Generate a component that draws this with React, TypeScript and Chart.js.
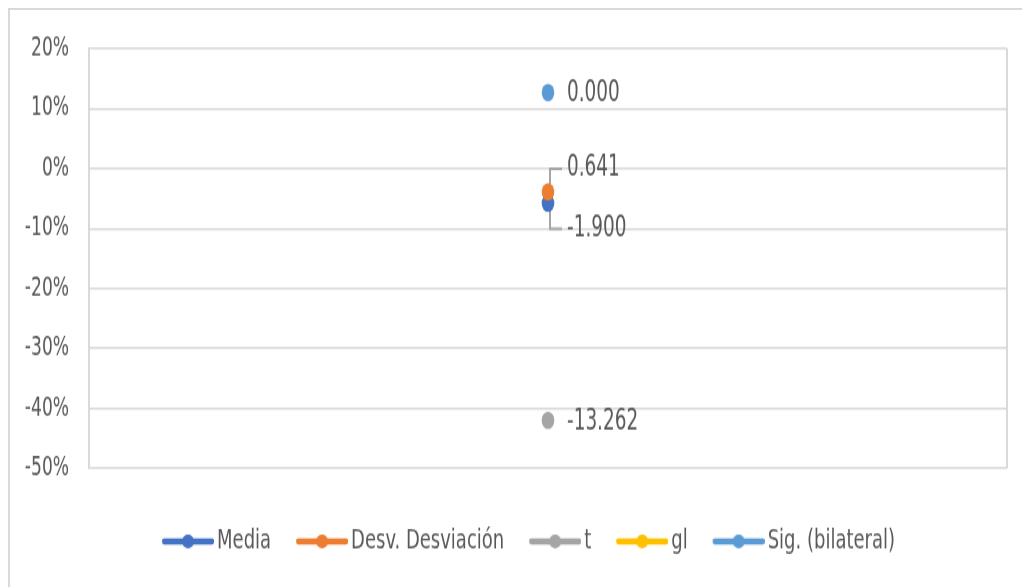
import React, { useEffect, useRef } from "react";
import { Chart, registerables } from "chart.js";

Chart.register(...registerables);

const categories = [""];
const seriesNames = ["Media", "Desv. Desviación", "t", "gl", "Sig. (bilateral)"];
const seriesColors = ["#4472C4", "#ED7D31", "#A5A5A5", "#FFC000", "#5B9BD5"];
const mediaValues = [-0.058];
const desvValues = [-0.039];
const tValues = [-0.42];
const glValues: (number | null)[] = [null];
const sigValues = [0.127];
const dataLabelTexts = ["-1.900", "0.641", "-13.262", "", "0.000"];
const yMin = -0.5;
const yMax = 0.2;
const yStep = 0.1;

// The reference is rendered with a vertical stretch; reproduce it by drawing
// into a shorter canvas that is displayed at the full height.
const CSS_W = 1020;
const CSS_H = 577;
const STRETCH = 1.38;
const CANVAS_H = Math.round(CSS_H / STRETCH);

const labelOffsetsY = [17.4, -17.8, 0, 0, 0];

const FONT = "'DejaVu Sans Condensed', 'DejaVu Sans', sans-serif";
const TEXT = "#595959";

function legendImage(color: string): HTMLCanvasElement {
  const c = document.createElement("canvas");
  c.width = 59;
  c.height = 12;
  const ctx = c.getContext("2d")!;
  ctx.strokeStyle = color;
  ctx.lineWidth = 4.3;
  ctx.lineCap = "round";
  ctx.beginPath();
  ctx.moveTo(9, 6);
  ctx.lineTo(57, 6);
  ctx.stroke();
  ctx.fillStyle = color;
  ctx.beginPath();
  ctx.ellipse(33, 6, 6, 5, 0, 0, Math.PI * 2);
  ctx.fill();
  return c;
}

const leaderPlugin = {
  id: "leaders",
  afterLayout(chart: any) {
    const lg = chart.legend;
    if (lg) {
      lg.left += 20;
      lg.right += 20;
    }
  },
  beforeDatasetsDraw(chart: any) {
    const ctx = chart.ctx;
    ctx.save();
    ctx.strokeStyle = "#A5A5A5";
    ctx.lineWidth = 2;
    chart.data.datasets.forEach((ds: any, i: number) => {
      const dy = labelOffsetsY[i];
      const pt = chart.getDatasetMeta(i).data[0];
      if (!pt || dy === 0 || ds.data[0] == null) return;
      ctx.beginPath();
      ctx.moveTo(pt.x + 2, pt.y);
      ctx.lineTo(pt.x + 2, pt.y + dy + 1);
      ctx.lineTo(pt.x + 14, pt.y + dy + 1);
      ctx.stroke();
    });
    ctx.restore();
  },
  afterDatasetsDraw(chart: any) {
    const ctx = chart.ctx;
    ctx.save();
    ctx.fillStyle = TEXT;
    ctx.font = `20.5px ${FONT}`;
    ctx.textAlign = "left";
    ctx.textBaseline = "middle";
    chart.data.datasets.forEach((ds: any, i: number) => {
      const pt = chart.getDatasetMeta(i).data[0];
      const txt = dataLabelTexts[i];
      if (!pt || !txt || ds.data[0] == null) return;
      ctx.fillText(txt, pt.x + 19, pt.y + labelOffsetsY[i] + 1);
    });
    ctx.restore();
  },
};

export default function App() {
  const ref = useRef<HTMLCanvasElement | null>(null);
  useEffect(() => {
    document.documentElement.style.overflow = "hidden";
    document.body.style.overflow = "hidden";
    const allValues = [mediaValues, desvValues, tValues, glValues, sigValues];
    const orders = [1, 0, 1, 1, 1];
    const datasets = seriesNames.map((name, i) => ({
      label: name,
      data: allValues[i],
      borderColor: seriesColors[i],
      backgroundColor: seriesColors[i],
      showLine: false,
      pointRadius: 6.3,
      pointBorderWidth: 0,
      pointStyle: "circle",
      order: orders[i],
    }));
    const legendImgs = seriesColors.map((c) => legendImage(c));
    const chart = new Chart(ref.current!, {
      type: "line",
      data: { labels: categories, datasets },
      plugins: [leaderPlugin],
      options: {
        animation: false,
        responsive: false,
        devicePixelRatio: 1,
        layout: { padding: { left: 0, top: 28, right: 23, bottom: 13 } },
        scales: {
          x: {
            offset: true,
            ticks: { display: false },
            grid: { offset: true, color: "#d9d9d9", lineWidth: 2, drawTicks: false },
            border: { display: false },
            afterFit(scale: any) {
              scale.height = 18;
            },
          },
          y: {
            min: yMin,
            max: yMax,
            ticks: {
              stepSize: yStep,
              padding: 20,
              color: TEXT,
              font: { family: FONT, size: 19 },
              callback: (v: any) => `${Math.round(Number(v) * 100)}%`,
            },
            grid: { color: "#d9d9d9", lineWidth: 1.5, drawTicks: false },
            border: { display: true, color: "#d9d9d9", width: 2 },
            afterFit(scale: any) {
              scale.width = 79;
              scale.paddingTop = 11;
              scale.paddingBottom = 11;
            },
          },
        },
        plugins: {
          tooltip: { enabled: false },
          legend: {
            position: "bottom",
            labels: {
              usePointStyle: true,
              pointStyleWidth: 45,
              padding: 25,
              color: TEXT,
              font: { family: FONT, size: 20 },
              generateLabels(ch: any) {
                const items = (Chart.defaults.plugins.legend.labels as any).generateLabels(ch);
                items.sort((a: any, b: any) => a.datasetIndex - b.datasetIndex);
                items.forEach((it: any) => {
                  it.pointStyle = legendImgs[it.datasetIndex];
                });
                return items;
              },
            },
          },
        },
      } as any,
    });
    return () => chart.destroy();
  }, []);
  return (
    <div
      style={{
        width: 1022,
        height: 579,
        borderTop: "2px solid #d9d9d9",
        borderLeft: "2px solid #d9d9d9",
        boxSizing: "border-box",
        background: "#fff",
      }}
    >
      <canvas
        ref={ref}
        width={CSS_W}
        height={CANVAS_H}
        style={{ display: "block", width: `${CSS_W}px`, height: `${CSS_H}px` }}
      />
    </div>
  );
}
